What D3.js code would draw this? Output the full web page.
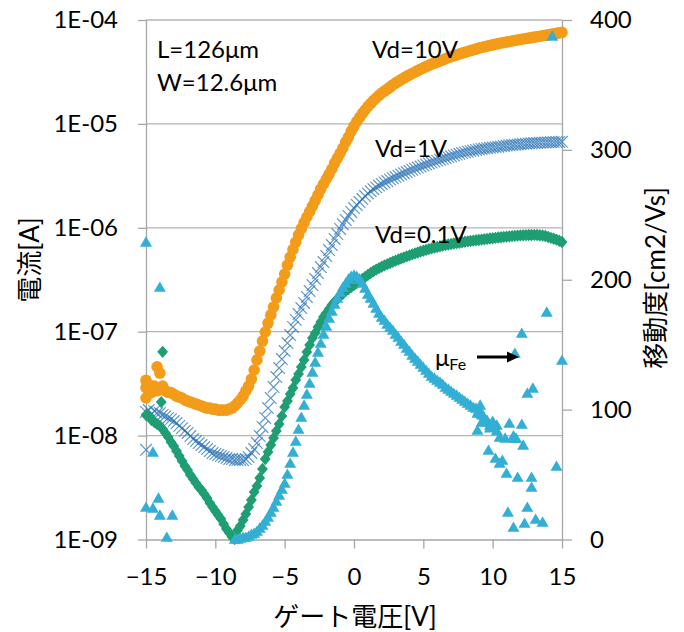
<!DOCTYPE html>
<html><head><meta charset="utf-8">
<script src="https://cdn.jsdelivr.net/npm/d3@7"></script>
<style>
body{margin:0;background:#fff}
svg{display:block}
text{font-family:Lato,"Noto Sans CJK JP",sans-serif;fill:#000}
</style>
</head><body>
<svg id="chart" width="684" height="632"></svg>
<script>
// ---------------- DATA ----------------
const gateVoltage = [-15,-14.8,-14.6,-14.4,-14.2,-14,-13.8,-13.6,-13.4,-13.2,
-13,-12.8,-12.6,-12.4,-12.2,-12,-11.8,-11.6,-11.4,-11.2,
-11,-10.8,-10.6,-10.4,-10.2,-10,-9.8,-9.6,-9.4,-9.2,
-9,-8.8,-8.6,-8.4,-8.2,-8,-7.8,-7.6,-7.4,-7.2,
-7,-6.8,-6.6,-6.4,-6.2,-6,-5.8,-5.6,-5.4,-5.2,
-5,-4.8,-4.6,-4.4,-4.2,-4,-3.8,-3.6,-3.4,-3.2,
-3,-2.8,-2.6,-2.4,-2.2,-2,-1.8,-1.6,-1.4,-1.2,
-1,-0.8,-0.6,-0.4,-0.2,0,0.2,0.4,0.6,0.8,
1,1.2,1.4,1.6,1.8,2,2.2,2.4,2.6,2.8,
3,3.2,3.4,3.6,3.8,4,4.2,4.4,4.6,4.8,
5,5.2,5.4,5.6,5.8,6,6.2,6.4,6.6,6.8,
7,7.2,7.4,7.6,7.8,8,8.2,8.4,8.6,8.8,
9,9.2,9.4,9.6,9.8,10,10.2,10.4,10.6,10.8,
11,11.2,11.4,11.6,11.8,12,12.2,12.4,12.6,12.8,
13,13.2,13.4,13.6,13.8,14,14.2,14.4,14.6,14.8,
15];

// drain current [A], Vd = 10 V
const idVd10 = [2.9e-8,3.1e-8,2.6e-8,3.0e-8,2.7e-8,4.0e-8,3.0e-8,2.7e-8,2.6e-8,2.6e-8,
2.5e-8,2.4e-8,2.35e-8,2.3e-8,2.2e-8,2.15e-8,2.1e-8,2.06e-8,2.01e-8,1.97e-8,
1.93e-8,1.88e-8,1.84e-8,1.84e-8,1.8e-8,1.8e-8,1.76e-8,1.76e-8,1.76e-8,1.76e-8,
1.8e-8,1.84e-8,1.93e-8,2.06e-8,2.2e-8,2.4e-8,2.69e-8,3.0e-8,3.5e-8,4.28e-8,
5.34e-8,6.51e-8,8.13e-8,9.93e-8,1.21e-7,1.45e-7,1.73e-7,2.11e-7,2.52e-7,3.01e-7,
3.59e-7,4.38e-7,5.23e-7,6.18e-7,7.29e-7,8.53e-7,9.84e-7,1.124e-6,1.27e-6,1.435e-6,
1.62e-6,1.83e-6,2.07e-6,2.36e-6,2.64e-6,2.95e-6,3.29e-6,3.68e-6,4.2e-6,4.69e-6,
5.24e-6,5.86e-6,6.69e-6,7.47e-6,8.53e-6,9.53e-6,1.055e-5,1.152e-5,1.259e-5,1.361e-5,
1.47e-5,1.571e-5,1.68e-5,1.775e-5,1.876e-5,1.983e-5,2.07e-5,2.166e-5,2.26e-5,2.37e-5,
2.47e-5,2.57e-5,2.67e-5,2.76e-5,2.87e-5,2.96e-5,3.06e-5,3.16e-5,3.26e-5,3.36e-5,
3.46e-5,3.56e-5,3.66e-5,3.76e-5,3.85e-5,3.94e-5,4.03e-5,4.12e-5,4.24e-5,4.34e-5,
4.44e-5,4.53e-5,4.62e-5,4.71e-5,4.8e-5,4.89e-5,4.98e-5,5.07e-5,5.16e-5,5.25e-5,
5.36e-5,5.44e-5,5.52e-5,5.6e-5,5.68e-5,5.76e-5,5.84e-5,5.92e-5,6.0e-5,6.07e-5,
6.14e-5,6.21e-5,6.28e-5,6.35e-5,6.42e-5,6.49e-5,6.56e-5,6.63e-5,6.7e-5,6.77e-5,
6.84e-5,6.91e-5,6.98e-5,7.05e-5,7.12e-5,7.2e-5,7.28e-5,7.36e-5,7.44e-5,7.52e-5,
7.6e-5];

// drain current [A], Vd = 1 V
const idVd1 = [1.69e-8,1.76e-8,1.61e-8,1.72e-8,1.65e-8,1.65e-8,1.58e-8,1.54e-8,1.48e-8,1.44e-8,
1.38e-8,1.32e-8,1.24e-8,1.18e-8,1.11e-8,1.06e-8,9.91e-9,9.26e-9,8.86e-9,8.48e-9,
8.11e-9,7.76e-9,7.42e-9,7.1e-9,6.79e-9,6.64e-9,6.5e-9,6.36e-9,6.22e-9,6.08e-9,
5.95e-9,5.95e-9,5.82e-9,5.82e-9,5.82e-9,5.82e-9,5.95e-9,6.22e-9,6.79e-9,7.42e-9,
8.48e-9,9.91e-9,1.21e-8,1.48e-8,1.84e-8,2.3e-8,2.93e-8,3.66e-8,4.47e-8,5.46e-8,
6.51e-8,7.78e-8,9.28e-8,1.11e-7,1.3e-7,1.48e-7,1.69e-7,1.89e-7,2.16e-7,2.46e-7,
2.81e-7,3.21e-7,3.67e-7,4.19e-7,4.68e-7,5.35e-7,6.11e-7,6.82e-7,7.81e-7,8.7e-7,
9.75e-7,1.08e-6,1.19e-6,1.3e-6,1.42e-6,1.55e-6,1.66e-6,1.77e-6,1.89e-6,2.02e-6,
2.14e-6,2.25e-6,2.35e-6,2.45e-6,2.55e-6,2.64e-6,2.73e-6,2.82e-6,2.91e-6,3.0e-6,
3.08e-6,3.17e-6,3.26e-6,3.35e-6,3.44e-6,3.53e-6,3.62e-6,3.71e-6,3.8e-6,3.89e-6,
3.98e-6,4.07e-6,4.16e-6,4.25e-6,4.34e-6,4.43e-6,4.52e-6,4.61e-6,4.7e-6,4.79e-6,
4.88e-6,4.97e-6,5.06e-6,5.15e-6,5.24e-6,5.32e-6,5.4e-6,5.47e-6,5.54e-6,5.61e-6,
5.68e-6,5.74e-6,5.79e-6,5.84e-6,5.89e-6,5.94e-6,5.98e-6,6.03e-6,6.08e-6,6.13e-6,
6.18e-6,6.22e-6,6.26e-6,6.3e-6,6.34e-6,6.38e-6,6.42e-6,6.45e-6,6.48e-6,6.51e-6,
6.54e-6,6.56e-6,6.58e-6,6.6e-6,6.62e-6,6.64e-6,6.66e-6,6.68e-6,6.7e-6,6.71e-6,
6.72e-6];

// drain current [A], Vd = 0.1 V
const idVd01 = [1.58e-8,1.54e-8,1.41e-8,1.35e-8,1.29e-8,1.24e-8,1.16e-8,1.06e-8,9.7e-9,8.67e-9,
7.93e-9,7.1e-9,6.36e-9,5.69e-9,5.09e-9,4.66e-9,4.17e-9,3.82e-9,3.5e-9,3.2e-9,
2.99e-9,2.74e-9,2.51e-9,2.25e-9,2.05e-9,1.88e-9,1.72e-9,1.58e-9,1.41e-9,1.26e-9,
1.16e-9,1.06e-9,1.01e-9,1.23e-9,1.35e-9,1.54e-9,1.76e-9,2.05e-9,2.4e-9,2.86e-9,
3.27e-9,3.91e-9,4.77e-9,5.95e-9,6.95e-9,8.11e-9,9.47e-9,1.11e-8,1.29e-8,1.54e-8,
1.88e-8,2.15e-8,2.51e-8,2.87e-8,3.43e-8,3.92e-8,4.57e-8,5.34e-8,6.37e-8,7.44e-8,
8.68e-8,9.7e-8,1.11e-7,1.24e-7,1.39e-7,1.51e-7,1.65e-7,1.81e-7,1.93e-7,2.06e-7,
2.21e-7,2.31e-7,2.46e-7,2.58e-7,2.69e-7,2.81e-7,2.94e-7,3.07e-7,3.21e-7,3.36e-7,
3.51e-7,3.67e-7,3.82e-7,3.96e-7,4.09e-7,4.22e-7,4.35e-7,4.47e-7,4.59e-7,4.71e-7,
4.83e-7,4.95e-7,5.07e-7,5.19e-7,5.31e-7,5.43e-7,5.55e-7,5.67e-7,5.79e-7,5.91e-7,
6.02e-7,6.13e-7,6.24e-7,6.34e-7,6.44e-7,6.54e-7,6.64e-7,6.73e-7,6.82e-7,6.9e-7,
6.98e-7,7.05e-7,7.12e-7,7.19e-7,7.26e-7,7.33e-7,7.4e-7,7.46e-7,7.52e-7,7.58e-7,
7.64e-7,7.7e-7,7.76e-7,7.82e-7,7.88e-7,7.94e-7,8.0e-7,8.06e-7,8.12e-7,8.17e-7,
8.22e-7,8.27e-7,8.32e-7,8.37e-7,8.41e-7,8.45e-7,8.48e-7,8.5e-7,8.52e-7,8.53e-7,
8.54e-7,8.52e-7,8.48e-7,8.42e-7,8.35e-7,8.15e-7,8.0e-7,7.85e-7,7.7e-7,7.5e-7,
7.3e-7];

// field-effect mobility [cm2/Vs] on the same Vg grid (null = no point)
const muFe = [null,null,null,null,null,null,null,null,null,null,
null,null,null,null,null,null,null,null,null,null,
null,null,null,null,null,null,null,null,null,null,
null,null,0.4,0.4,1.2,1.9,1.9,2.7,4.2,5.0,
6.5,8.9,11.2,14.2,17.3,21.2,25.0,29.6,34.3,38.9,
43.5,50.4,58.9,67.4,75.8,85.1,94.3,103.6,112.1,120.5,
129.0,136.7,144.4,151.3,158.3,164.4,170.6,176.0,181.4,186.0,
190.6,194.4,197.5,200.6,202.9,203.7,202.9,200.6,197.5,193.6,
189.0,186.0,182.1,178.2,174.4,171.3,169.0,165.9,163.6,161.3,
158.3,155.9,152.8,150.5,147.4,145.1,142.1,139.8,137.5,135.1,
132.8,130.5,128.2,125.9,124.4,122.8,121.3,119.7,117.4,115.9,
114.3,112.8,111.3,109.7,108.2,106.6,105.1,103.6,102.0,101.3,
99.7,96.6,93.5,90.5,88.2,null,null,null,null,null,
null,null,null,null,null,null,null,null,null,null,
null,null,null,null,null,null,null,null,null,null,
null];

// scattered (noisy) points
const muScatterVg  = [-15.0,-14.0,-14.5,-15.0,-14.1,-14.5,-14.0,-13.1,-13.5,
 13.9,12.1,11.6,15.0,12.9,12.5,9.1,9.3,11.2,12.1,10.3,8.9,10.5,10.9,11.6,12.2,
 9.7,10.2,10.7,10.5,11.0,11.8,12.8,12.8,14.6,11.1,12.5,11.5,12.3,13.1,13.6,14.3,
 8.9,9.2,9.6,10.0,9.8,10.3,11.5,11.7];
const muScatterVal = [229.1,194.4,67.4,25.0,32.0,24.3,18.9,18.9,1.9,
 175.2,159.0,143.6,138.2,116.7,112.8,103.6,95.9,89.7,88.9,88.2,84.3,78.9,78.2,78.2,72.8,
 68.9,62.7,61.2,58.9,51.2,48.1,48.1,40.4,56.6,21.2,25.0,9.6,12.7,15.8,13.5,387.7,
 97.4,90.5,92.0,91.2,86.0,84.0,80.0,78.0];
const idVd10ExtraVg = [-14.2,-15.0,-15.0];
const idVd10Extra   = [4.6e-8,3.4e-8,2.3e-8];
const idVd1ExtraVg  = [-15.0];
const idVd1Extra    = [7.3e-9];
const idVd01ExtraVg = [-13.8,-13.9];
const idVd01Extra   = [6.4e-8,2.1e-8];

// axes
const xTicks = [-15,-10,-5,0,5,10,15];
const leftTicks = [1e-9,1e-8,1e-7,1e-6,1e-5,1e-4];
const leftTickLabels = ["1E-09","1E-08","1E-07","1E-06","1E-05","1E-04"];
const rightTicks = [0,100,200,300,400];

// ---------------- DRAW ----------------
const L = 146, R = 562, T = 20, B = 539.5;
const C = {orange:"#F39C1A", blue:"#2E75B6", green:"#1E9E72", cyan:"#33AED4", axis:"#A6A6A6", grid:"#B4B4B4"};
const svg = d3.select("#chart");

const x  = d3.scaleLinear().domain([-15,15]).range([L,R]);
const yL = d3.scaleLog().domain([1e-9,1e-4]).range([B,T]);
const yR = d3.scaleLinear().domain([0,400]).range([B,T]);

// gridlines
svg.append("g").selectAll("line").data(leftTicks.slice(1)).join("line")
  .attr("x1",L).attr("x2",R).attr("y1",d=>yL(d)).attr("y2",d=>yL(d))
  .attr("stroke",C.grid).attr("stroke-width",1.3);

function styleAxis(g){
  g.selectAll("path,line").attr("stroke",C.axis).attr("stroke-width",1.3);
  g.selectAll("text").style("font-size","24px").attr("fill","#000");
}
svg.append("g").attr("transform",`translate(${L},0)`)
  .call(d3.axisLeft(yL).tickValues(leftTicks).tickFormat((d,i)=>leftTickLabels[i])
    .tickSize(8).tickSizeOuter(0).tickPadding(20))
  .call(styleAxis);
svg.append("g").attr("transform",`translate(${R},0)`)
  .call(d3.axisRight(yR).tickValues(rightTicks).tickFormat(d3.format("d"))
    .tickSize(10).tickSizeOuter(0).tickPadding(18))
  .call(styleAxis);
svg.append("g").attr("transform",`translate(0,${B})`)
  .call(d3.axisBottom(x).tickValues(xTicks).tickFormat(d3.format("d"))
    .tickSize(9).tickSizeOuter(0).tickPadding(19))
  .call(styleAxis);

// series
function pts(vg, vals){ return vg.map((v,i)=>({v, y: vals[i]})).filter(d=>d.y!=null); }
const shapes = {
  x: "M-5.8,-5.8L5.8,5.8M-5.8,5.8L5.8,-5.8",
  diamond: "M0,-6.2L5.4,0L0,6.2L-5.4,0Z",
  tri: "M0,-5.6L6,4.8L-6,4.8Z"
};

// Vd = 10 V : circles
svg.append("g").selectAll("circle")
  .data(pts(gateVoltage,idVd10).concat(pts(idVd10ExtraVg,idVd10Extra))).join("circle")
  .attr("cx",d=>x(d.v)).attr("cy",d=>yL(d.y)).attr("r",5.8).attr("fill",C.orange);

// Vd = 1 V : crosses
svg.append("g").selectAll("path")
  .data(pts(gateVoltage,idVd1).concat(pts(idVd1ExtraVg,idVd1Extra))).join("path")
  .attr("d",shapes.x).attr("transform",d=>`translate(${x(d.v)},${yL(d.y)})`)
  .attr("fill","none").attr("stroke",C.blue).attr("stroke-width",1.2).attr("stroke-opacity",0.75);

// Vd = 0.1 V : diamonds
svg.append("g").selectAll("path")
  .data(pts(gateVoltage,idVd01).concat(pts(idVd01ExtraVg,idVd01Extra))).join("path")
  .attr("d",shapes.diamond).attr("transform",d=>`translate(${x(d.v)},${yL(d.y)})`)
  .attr("fill",C.green);

// mobility : triangles
svg.append("g").selectAll("path")
  .data(pts(gateVoltage,muFe).concat(pts(muScatterVg,muScatterVal))).join("path")
  .attr("d",shapes.tri).attr("transform",d=>`translate(${x(d.v)},${yR(d.y)})`)
  .attr("fill",C.cyan);

// annotations
const ann = svg.append("g").style("font-size","24px");
ann.append("text").attr("x",157).attr("y",58).text("L=126μm");
ann.append("text").attr("x",157).attr("y",91).text("W=12.6μm");
ann.append("text").attr("x",372).attr("y",58).text("Vd=10V");
ann.append("text").attr("x",375).attr("y",157).text("Vd=1V");
ann.append("text").attr("x",375).attr("y",243).text("Vd=0.1V");
const mu = ann.append("text").attr("x",435).attr("y",366);
mu.append("tspan").text("μ");
mu.append("tspan").attr("dy",4).style("font-size","16px").text("Fe");
svg.append("line").attr("x1",477).attr("x2",509).attr("y1",357).attr("y2",357)
  .attr("stroke","#000").attr("stroke-width",3);
svg.append("path").attr("d","M507,351.5L519,357L507,362.5Z").attr("fill","#000");

// axis titles
svg.append("text").attr("transform","translate(29,260) rotate(-90)")
  .attr("text-anchor","middle").attr("dominant-baseline","central")
  .style("font-size","26px").text("電流[A]");
svg.append("text").attr("transform","translate(655,278) rotate(-90)")
  .attr("text-anchor","middle").attr("dominant-baseline","central")
  .style("font-size","26px").text("移動度[cm2/Vs]");
svg.append("text").attr("x",355).attr("y",616)
  .attr("text-anchor","middle").attr("dominant-baseline","central")
  .style("font-size","26px").text("ゲート電圧[V]");
</script>
</body></html>
